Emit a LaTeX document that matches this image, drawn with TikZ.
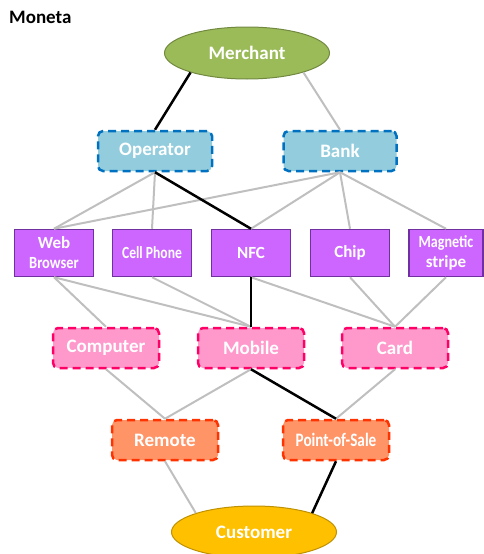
\documentclass[tikz,border=0pt]{standalone}
\usepackage{fontspec}
\setmainfont{Carlito}
\usetikzlibrary{shapes.geometric}
\definecolor{merchantfill}{HTML}{9BBB59}
\definecolor{merchantdraw}{HTML}{71893F}
\definecolor{partyfill}{HTML}{93CDDD}
\definecolor{partydraw}{HTML}{0070C0}
\definecolor{techfill}{HTML}{CC66FF}
\definecolor{techdraw}{HTML}{7030A0}
\definecolor{devicefill}{HTML}{FF99CC}
\definecolor{devicedraw}{HTML}{FF0066}
\definecolor{channelfill}{HTML}{FF9466}
\definecolor{channeldraw}{HTML}{FF3300}
\definecolor{customerfill}{HTML}{FFC000}
\definecolor{customerdraw}{HTML}{BF9000}
\definecolor{linkgray}{HTML}{BFBFBF}

\begin{document}
\begin{tikzpicture}[x=1pt,y=-1pt,
    every node/.style={inner sep=0pt, text=white,
      font=\bfseries\fontsize{19}{22}\selectfont},
    oval/.style={ellipse, minimum width=165pt, minimum height=52pt, line width=1pt},
    dashbox/.style={rectangle, rounded corners=5pt, minimum height=40pt,
      line width=2.5pt, dash pattern=on 8pt off 5pt},
    techbox/.style={rectangle, minimum width=79pt, minimum height=47pt,
      line width=1.5pt, fill=techfill, draw=techdraw, align=center,
      font=\bfseries\fontsize{17}{21}\selectfont},
    link/.style={linkgray, line width=2pt},
    path/.style={black, line width=2.5pt}]
    \useasboundingbox (0,0) rectangle (484,554);

    \node[text=black, anchor=west] (title) at (9,17) {Moneta};

    \node[oval, fill=merchantfill, draw=merchantdraw] (merchant) at (247,53) {Merchant};

    \node[dashbox, minimum width=114pt, fill=partyfill, draw=partydraw] (operator) at (155,151) {Operator};
    \node[dashbox, minimum width=113pt, fill=partyfill, draw=partydraw] (bank) at (340,151) {Bank};

    \node[techbox] (web) at (54,253) {Web\\[-1pt]\scalebox{0.85}[1]{Browser}};
    \node[techbox] (cell) at (152,253) {\scalebox{0.8}[1]{Cell Phone}};
    \node[techbox] (nfc) at (251,253) {NFC};
    \node[techbox] (chip) at (350,253) {Chip};
    \node[techbox, minimum width=74pt] (stripe) at (446,253) {\scalebox{0.83}[1]{Magnetic}\\[-1pt]stripe};

    \node[dashbox, minimum width=106pt, fill=devicefill, draw=devicedraw] (computer) at (106,348) {Computer};
    \node[dashbox, minimum width=106pt, fill=devicefill, draw=devicedraw] (mobile) at (251,348) {Mobile};
    \node[dashbox, minimum width=106pt, fill=devicefill, draw=devicedraw] (card) at (395,348) {Card};

    \node[dashbox, minimum width=106pt, fill=channelfill, draw=channeldraw] (remote) at (165,440) {Remote};
    \node[dashbox, minimum width=106pt, fill=channelfill, draw=channeldraw] (pos) at (336,440) {\scalebox{0.8}[1]{Point-of-Sale}};

    \node[oval, fill=customerfill, draw=customerdraw] (customer) at (254,532) {Customer};

    \draw[link] (merchant.341) -- (bank.north);
    \draw[link] (operator.south) -- (web.north);
    \draw[link] (operator.south) -- (cell.north);
    \draw[link] (bank.south) -- (web.north);
    \draw[link] (bank.south) -- (nfc.north);
    \draw[link] (bank.south) -- (chip.north);
    \draw[link] (bank.south) -- (stripe.north);
    \draw[link] (web.south) -- (computer.north);
    \draw[link] (web.south) -- (mobile.north);
    \draw[link] (cell.south) -- (mobile.north);
    \draw[link] (nfc.south) -- (card.north);
    \draw[link] (chip.south) -- (card.north);
    \draw[link] (stripe.south) -- (card.north);
    \draw[link] (computer.south) -- (remote.north);
    \draw[link] (mobile.south) -- (remote.north);
    \draw[link] (card.south) -- (pos.north);
    \draw[link] (remote.south) -- (customer.162);

    \draw[path] (merchant.199) -- (operator.north);
    \draw[path] (operator.south) -- (nfc.north);
    \draw[path] (nfc.south) -- (mobile.north);
    \draw[path] (mobile.south) -- (pos.north);
    \draw[path] (pos.south) -- (customer.18);
  \end{tikzpicture}
\end{document}
